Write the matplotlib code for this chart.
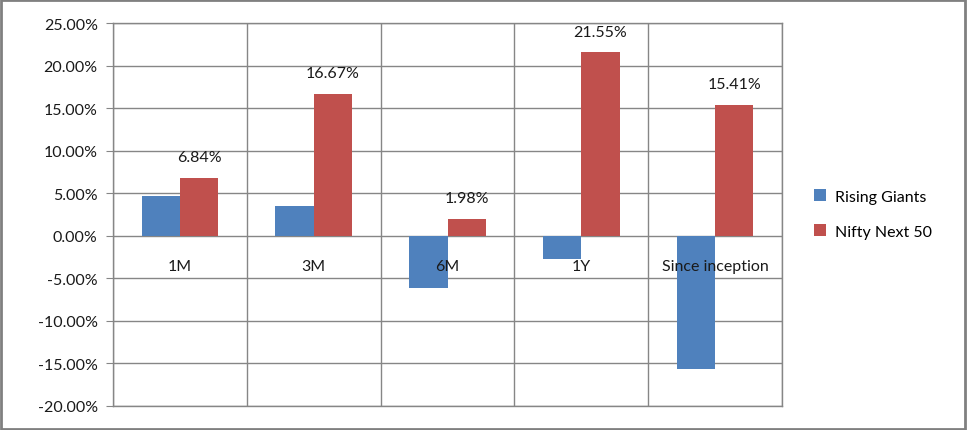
import numpy as np
import matplotlib.pyplot as plt
from matplotlib.ticker import FuncFormatter, MultipleLocator
from matplotlib.patches import Rectangle

categories = ['1M', '3M', '6M', '1Y', 'Since inception']
rising_giants = [4.70, 3.53, -6.19, -2.78, -15.70]
nifty_next_50 = [6.84, 16.67, 1.98, 21.55, 15.41]

blue = '#4f81bd'
red = '#c0504d'
grid_col = '#868686'

plt.rcParams['font.family'] = ['Lato', 'DejaVu Sans']

fig = plt.figure(figsize=(9.67, 4.31), dpi=100)
ax = fig.add_axes([113/967, 24/431, (782-113)/967, (407-24)/431])

x = np.arange(len(categories))
w = 1 / 3.5
b1 = ax.bar(x - w/2, rising_giants, w, color=blue, label='Rising Giants', zorder=3)
b2 = ax.bar(x + w/2, nifty_next_50, w, color=red, label='Nifty Next 50', zorder=3)

# data labels for the red series only
for rect, v in zip(b2, nifty_next_50):
    ax.annotate(f'{v:.2f}%', (rect.get_x() + rect.get_width()/2, v),
                xytext=(0, 15), textcoords='offset points',
                ha='center', va='center', fontsize=11.5, color='#1a1a1a', zorder=4)

# category labels just under the zero line
for xi, c in zip(x, categories):
    ax.annotate(c, (xi, 0), xytext=(0, -22), textcoords='offset points',
                ha='center', va='center', fontsize=11.5, color='#1a1a1a', zorder=4)

ax.set_xlim(-0.5, len(categories) - 0.5)
ax.set_ylim(-20, 25)
ax.yaxis.set_major_locator(MultipleLocator(5))
ax.yaxis.set_major_formatter(FuncFormatter(lambda v, p: f'{v:.2f}%'))
ax.set_xticks([])
for xv in np.arange(-0.5, len(categories), 1):
    ax.axvline(xv, color=grid_col, lw=1, zorder=1)
ax.grid(axis='y', color=grid_col, lw=1, zorder=1)
ax.set_axisbelow(True)
for s in ax.spines.values():
    s.set_color(grid_col)
    s.set_linewidth(1)
ax.tick_params(axis='y', direction='out', length=5, color=grid_col,
               labelsize=11.5, labelcolor='#1a1a1a', pad=6)

ax.legend(loc='center left', bbox_to_anchor=(800/967, 216/431),
          bbox_transform=fig.transFigure, frameon=False, fontsize=11.5,
          handlelength=0.7, handleheight=0.7, labelspacing=1.3, handletextpad=0.6)

fig.patches.append(Rectangle((0.001, 0.002), 0.997, 0.995, transform=fig.transFigure,
                             fill=False, edgecolor='#808080', lw=2))

fig.savefig('out.png', dpi=100)
